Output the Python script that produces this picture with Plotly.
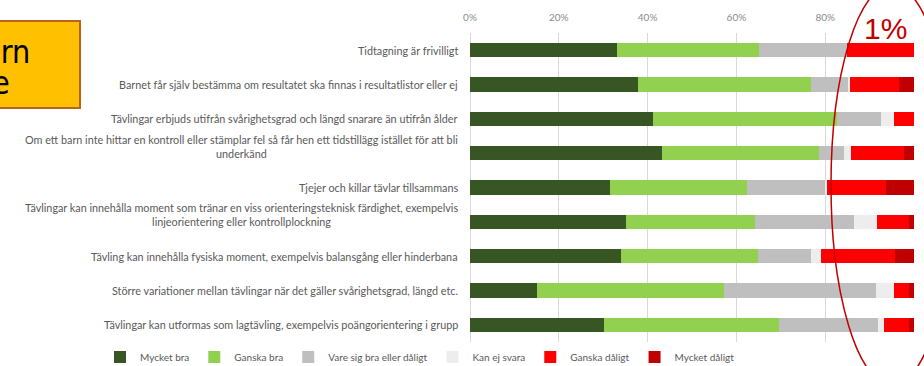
import plotly.graph_objects as go

# Statements (top to bottom)
statements = [
    "Tidtagning är frivilligt",
    "Barnet får själv bestämma om resultatet ska finnas i resultatlistor eller ej",
    "Tävlingar erbjuds utifrån svårighetsgrad och längd snarare än utifrån ålder",
    "Om ett barn inte hittar en kontroll eller stämplar fel så får hen ett tidstillägg istället för att bli<br>underkänd",
    "Tjejer och killar tävlar tillsammans",
    "Tävlingar kan innehålla moment som tränar en viss orienteringsteknisk färdighet, exempelvis<br>linjeorientering eller kontrollplockning",
    "Tävling kan innehålla fysiska moment, exempelvis balansgång eller hinderbana",
    "Större variationer mellan tävlingar när det gäller svårighetsgrad, längd etc.",
    "Tävlingar kan utformas som lagtävling, exempelvis poängorientering i grupp",
]

# Share of answers per statement (%)
mycket_bra    = [33.0, 37.8, 41.3, 43.2, 31.6, 35.1, 33.9, 15.2, 30.2]
ganska_bra    = [32.0, 38.9, 41.4, 35.4, 30.7, 29.2, 30.9, 41.9, 39.3]
varken        = [19.8,  8.6,  9.8,  5.6, 17.7, 22.2, 12.0, 34.3, 22.3]
kan_ej_svara  = [ 0.0,  0.3,  3.1,  1.5,  0.4,  5.2,  2.3,  4.2,  1.5]
ganska_daligt = [15.2, 11.1,  4.4, 12.1, 13.2,  7.2, 16.6,  3.3,  5.6]
mycket_daligt = [ 0.0,  3.3,  0.0,  2.2,  6.4,  1.1,  4.3,  1.1,  1.1]

series_names = ["Mycket bra", "Ganska bra", "Vare sig bra eller dåligt",
                "Kan ej svara", "Ganska dåligt", "Mycket dåligt"]
series_values = [mycket_bra, ganska_bra, varken, kan_ej_svara, ganska_daligt, mycket_daligt]
series_colors = ["#375623", "#92D050", "#BFBFBF", "#EDEDED", "#FF0000", "#C00000"]

tick_vals = [0, 20, 40, 60, 80, 100]
tick_text = ["0%", "20%", "40%", "60%", "80%", "100%"]

W, H = 924, 366
L, R, T, B = 470, 10, 33, 24
PW, PH = W - L - R, H - T - B


def px_x(px):
    return (px - L) / PW


def px_y(py):
    return 1 - (py - T) / PH


fig = go.Figure()
for name, vals, col in zip(series_names, series_values, series_colors):
    fig.add_trace(go.Bar(
        y=statements, x=vals, name=name, orientation="h",
        marker=dict(color=col, line=dict(width=0)),
        hoverinfo="skip",
    ))

label_font = dict(family="Lato, Carlito, Calibri, sans-serif", size=10.8, color="#595959")
annotations = []
for s in statements:
    two_line = "<br>" in s
    annotations.append(dict(xref="paper", yref="y", x=0, y=s, xanchor="right",
                            yanchor="middle", xshift=-10, yshift=7 if two_line else 0,
                            text=s, align="center", showarrow=False, font=label_font))

# orange note box (partly outside the canvas), its text and the red ellipse
shapes = [
    dict(type="rect", xref="paper", yref="paper",
         x0=px_x(-6), x1=px_x(80), y0=px_y(108), y1=px_y(21),
         fillcolor="#FFC000", line=dict(color="#B5651D", width=2), layer="above"),
    dict(type="circle", xref="paper", yref="paper",
         x0=px_x(831), x1=px_x(953), y0=px_y(385), y1=px_y(-15),
         line=dict(color="#C00000", width=1.5), fillcolor="rgba(0,0,0,0)", layer="above"),
]
box_font = dict(family="Liberation Sans Narrow, Arial Narrow, DejaVu Sans Condensed, sans-serif",
                size=32, color="#000000")
annotations += [
    dict(xref="paper", yref="paper", x=px_x(32), y=px_y(52), xanchor="right", yanchor="middle",
         text="arn", showarrow=False, font=box_font),
    dict(xref="paper", yref="paper", x=px_x(12), y=px_y(83), xanchor="right", yanchor="middle",
         text="e", showarrow=False, font=box_font),
    dict(xref="paper", yref="paper", x=px_x(885), y=px_y(28), xanchor="center", yanchor="middle",
         text="1%", showarrow=False,
         font=dict(family="Liberation Sans, Arial, sans-serif", size=30, color="#C00000")),
]

fig.update_layout(
    width=W, height=H,
    margin=dict(l=L, r=R, t=T, b=B, autoexpand=False),
    barmode="stack", bargap=0.59,
    plot_bgcolor="white", paper_bgcolor="white",
    showlegend=True,
    legend=dict(orientation="h", x=px_x(100), y=px_y(357), xanchor="left", yanchor="middle",
                font=dict(family="Lato, Carlito, Calibri, sans-serif", size=10, color="#595959"),
                itemwidth=30, traceorder="normal", bgcolor="rgba(0,0,0,0)"),
    xaxis=dict(side="top", range=[0, 100], tickvals=tick_vals, ticktext=tick_text,
               showgrid=True, gridcolor="#D9D9D9", gridwidth=1,
               zeroline=True, zerolinecolor="#D9D9D9", zerolinewidth=1,
               showline=False, ticks="", ticklabelstandoff=9,
               tickfont=dict(family="Lato, Carlito, Calibri, sans-serif", size=10, color="#8C8C8C")),
    yaxis=dict(autorange="reversed", showticklabels=False, showgrid=False, zeroline=False,
               showline=False, ticks=""),
    shapes=shapes,
    annotations=annotations,
)

fig.write_html("out.html")
